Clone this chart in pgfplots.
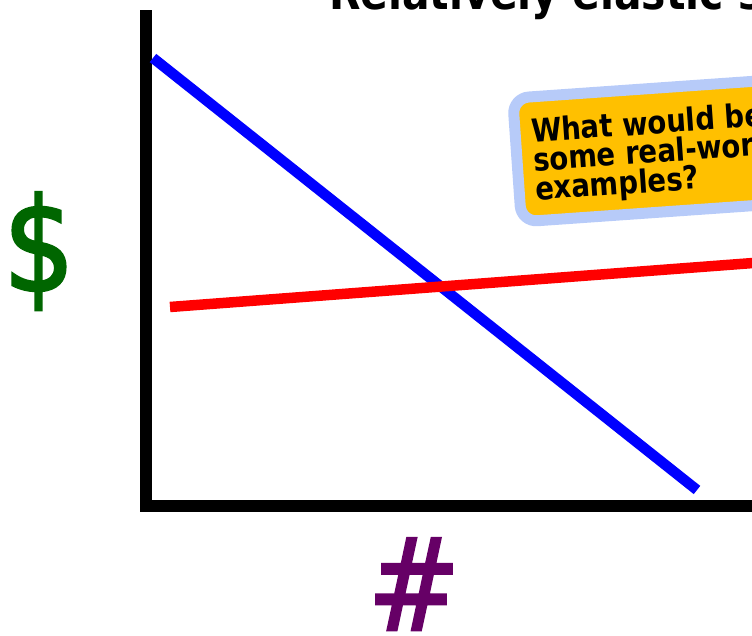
\documentclass[border=0pt]{standalone}
\usepackage{fontspec}
\usepackage{pgfplots}
\pgfplotsset{compat=1.18}
\newfontfamily\slidefont{DejaVu Sans}[FakeStretch=0.86]
\newfontfamily\labelfont{DejaVu Sans}[FakeStretch=0.86, FakeBold=2]
\definecolor{dollargreen}{HTML}{006600}
\definecolor{hashpurple}{HTML}{660066}
\definecolor{boxedge}{HTML}{B7CBF9}
\definecolor{boxfill}{HTML}{FFC000}

\begin{document}
\begin{tikzpicture}[x=1pt,y=1pt]
\useasboundingbox (0,0) rectangle (752,635);
\clip (0,0) rectangle (752,635);

% title, cut off by the top edge as in the slide
\node[anchor=base west, inner sep=0, font=\slidefont\bfseries\fontsize{47.5}{50}\selectfont]
  at (329,625) {Relatively elastic supply};

\begin{axis}[
  at={(146pt,129pt)}, anchor=south west,
  scale only axis, width=700pt, height=490pt,
  xmin=0, xmax=700, ymin=0, ymax=490,
  axis lines=left,
  axis line style={-, line width=12pt, line cap=rect, black},
  ticks=none,
  clip=false,
]
% demand
\addplot[color=blue, line width=10.5pt] coordinates {(7,448) (551,16)};
% relatively elastic supply
\addplot[color=red, line width=10.5pt] coordinates {(24,199) (700,250)};
\end{axis}

% axis labels
\node[anchor=base, inner sep=0, text=dollargreen, font=\labelfont\fontsize{130}{130}\selectfont]
  at (39,344) {\$};
\node[anchor=base, inner sep=0, text=hashpurple, font=\labelfont\fontsize{128}{128}\selectfont]
  at (414,5) {\#};

% callout
\begin{scope}[shift={(517,475)}, rotate=4]
  \draw[line width=11pt, draw=boxedge, fill=boxfill, rounded corners=16pt]
    (0,-62) rectangle (420,62);
  \node[anchor=north west, inner sep=0, transform shape, align=left,
        font=\slidefont\bfseries\fontsize{32}{29}\selectfont]
    at (16,41) {What would be\\some real-world\\examples?};
\end{scope}
\end{tikzpicture}
\end{document}
